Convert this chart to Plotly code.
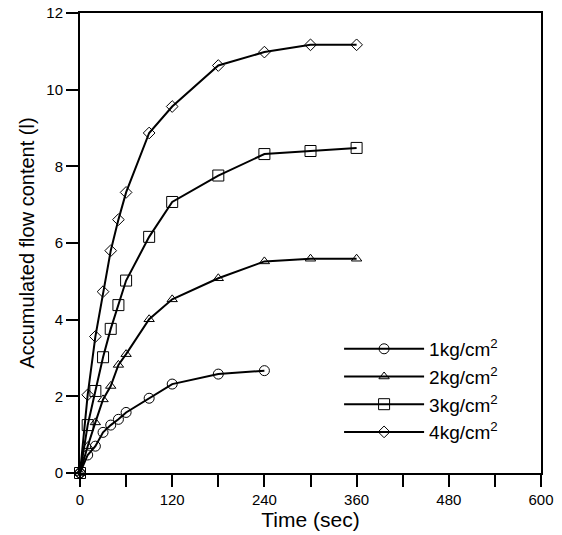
import plotly.graph_objects as go

# Measured times (sec)
t_1kg = [0, 10, 20, 30, 40, 50, 60, 90, 120, 180, 240]
t_all = [0, 10, 20, 30, 40, 50, 60, 90, 120, 180, 240, 300, 360]

# Accumulated flow content (l)
flow_1kg = [0, 0.47, 0.70, 1.06, 1.25, 1.40, 1.58, 1.95, 2.32, 2.58, 2.67]
flow_2kg = [0, 0.70, 1.32, 1.92, 2.27, 2.82, 3.10, 4.01, 4.53, 5.08, 5.52, 5.59, 5.59]
flow_3kg = [0, 1.25, 2.14, 3.02, 3.76, 4.38, 5.02, 6.16, 7.07, 7.76, 8.32, 8.40, 8.48]
flow_4kg = [0, 2.04, 3.56, 4.73, 5.80, 6.61, 7.32, 8.87, 9.56, 10.63, 10.98, 11.17, 11.17]

x_ticks = [0, 120, 240, 360, 480, 600]
y_ticks = [0, 2, 4, 6, 8, 10, 12]

series = [
    ("1kg/cm<sup>2</sup>", t_1kg, flow_1kg, "circle-open", 10),
    ("2kg/cm<sup>2</sup>", t_all, flow_2kg, "triangle-up-open", 9),
    ("3kg/cm<sup>2</sup>", t_all, flow_3kg, "square-open", 11),
    ("4kg/cm<sup>2</sup>", t_all, flow_4kg, "diamond-open", 9),
]

fig = go.Figure()

for name, t, flow, symbol, size in series:
    fig.add_trace(
        go.Scatter(
            x=t,
            y=flow,
            mode="lines+markers",
            name=name,
            line={"color": "black", "width": 2},
            marker={
                "symbol": symbol,
                "size": size,
                "color": "black",
                "line": {"color": "#222222", "width": 1},
            },
            cliponaxis=False,
        )
    )

axis_common = {
    "showline": True,
    "linecolor": "black",
    "linewidth": 2,
    "mirror": True,
    "ticks": "outside",
    "ticklen": 12,
    "tickwidth": 2,
    "tickcolor": "black",
    "showgrid": False,
    "zeroline": False,
    "automargin": False,
    "tickfont": {"size": 15, "color": "black"},
}

fig.update_layout(
    width=562,
    height=535,
    margin={"l": 80, "r": 21, "t": 13, "b": 62},
    plot_bgcolor="white",
    paper_bgcolor="white",
    font={"family": "Liberation Sans, Arial, sans-serif", "color": "black"},
    xaxis={
        **axis_common,
        "range": [0, 600],
        "tickvals": x_ticks,
        # unlabelled ticks halfway between the labelled ones
        "minor": {
            "dtick": 60,
            "ticks": "outside",
            "ticklen": 12,
            "tickwidth": 2,
            "tickcolor": "black",
            "showgrid": False,
        },
        "title": {"text": "Time (sec)", "font": {"size": 21}, "standoff": 0},
    },
    yaxis={
        **axis_common,
        "range": [0, 12],
        "tickvals": y_ticks,
        "title": {"text": "Accumulated flow content (l)", "font": {"size": 20}, "standoff": 6},
    },
    legend={
        "x": 0.562,
        "y": 0.311,
        "xanchor": "left",
        "yanchor": "top",
        "bgcolor": "rgba(0,0,0,0)",
        "font": {"size": 19},
        "itemwidth": 80,
        "tracegroupgap": 0,
    },
    showlegend=True,
)

# drop the page margin so the figure sits at the window's top-left corner
fig.write_html(
    "out.html",
    config={"displayModeBar": False},
    post_script="document.body.style.margin='0px';",
)
